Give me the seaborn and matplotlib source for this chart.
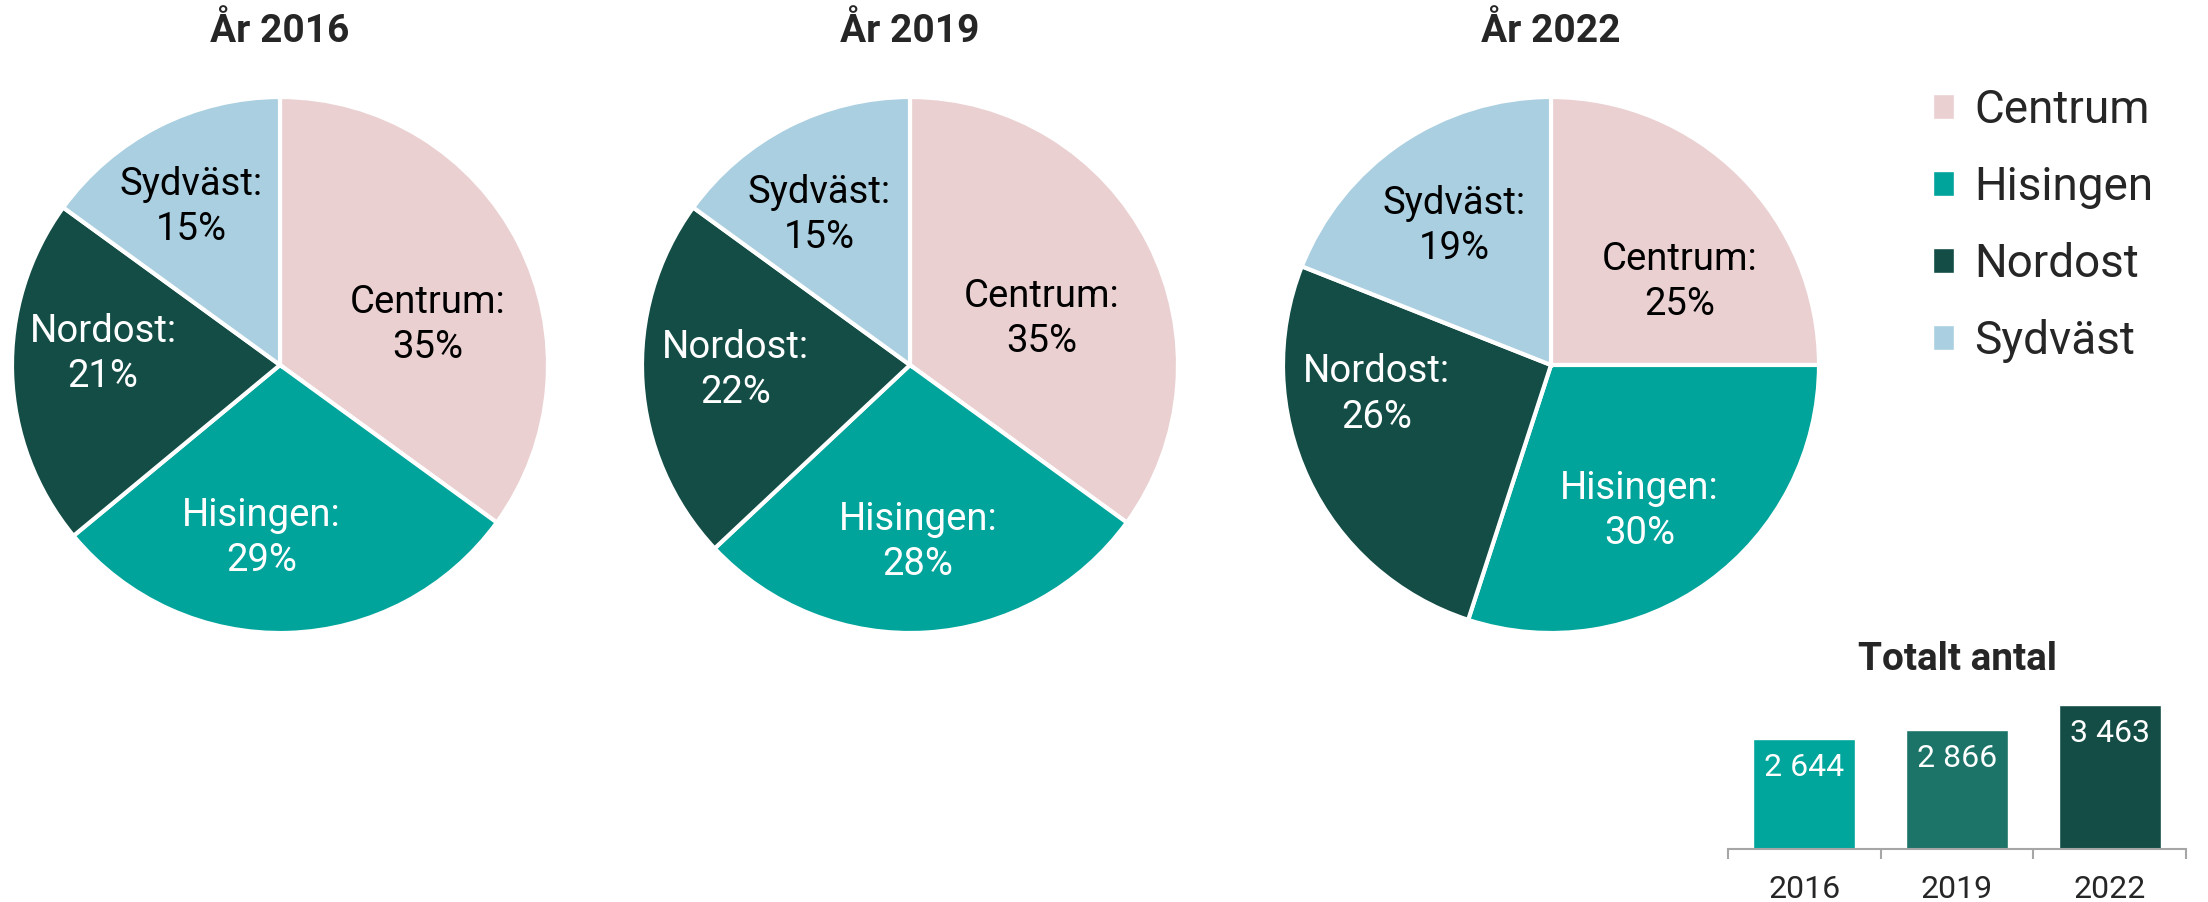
import matplotlib
matplotlib.use("Agg")
import matplotlib.pyplot as plt
import seaborn as sns
from matplotlib.patches import Patch

# Data
areas = ["Centrum", "Hisingen", "Nordost", "Sydväst"]
years = ["2016", "2019", "2022"]
share_2016 = [35, 29, 21, 15]
share_2019 = [35, 28, 22, 15]
share_2022 = [25, 30, 26, 19]
totals = [2644, 2866, 3463]
total_labels = ["2 644", "2 866", "3 463"]

# Styles
area_colors = ["#ebd0d1", "#00a49b", "#134d46", "#aacfe1"]
text_colors = ["black", "white", "white", "black"]
bar_colors = ["#00a59b", "#1c7368", "#134d45"]

# label placement inside each pie (in units of the radius)
label_pos = {
    "2016": [(0.55, 0.15), (-0.07, -0.645), (-0.66, 0.04), (-0.33, 0.59)],
    "2019": [(0.49, 0.17), (0.03, -0.66), (-0.65, -0.02), (-0.34, 0.56)],
    "2022": [(0.48, 0.31), (0.33, -0.545), (-0.65, -0.11), (-0.36, 0.52)],
}

W, H = 2208, 902
R = 268
pie_centers = [(280, 365), (910, 365), (1551, 365)]

sns.set_theme(style="white")
plt.rcParams['font.family'] = ['Roboto', 'DejaVu Sans']

fig = plt.figure(figsize=(W / 100, H / 100), dpi=100, facecolor="white")

for year, shares, (cx, cy) in zip(years, [share_2016, share_2019, share_2022], pie_centers):
    ax = fig.add_axes([(cx - R) / W, 1 - (cy + R) / H, 2 * R / W, 2 * R / H])
    ax.pie(shares, colors=area_colors, startangle=90, counterclock=False,
           wedgeprops={'edgecolor': 'white', 'linewidth': 3})
    ax.set_xlim(-1, 1)
    ax.set_ylim(-1, 1)
    ax.set_aspect('equal')
    for area, val, col, (x, y) in zip(areas, shares, text_colors, label_pos[year]):
        ax.text(x, y, f"{area}:\n{val}%", ha='center', va='center',
                fontsize=27.5, color=col, linespacing=1.28)
    fig.text(cx / W, 1 - 31 / H, f"År {year}", ha='center', va='center',
             fontsize=28, fontweight='bold')

# Legend
handles = [Patch(facecolor=c, label=a) for a, c in zip(areas, area_colors)]
fig.legend(handles=handles, loc='upper left', bbox_to_anchor=(1933 / W, 1 - 88 / H),
           frameon=False, fontsize=33, handlelength=0.45, handleheight=0.45,
           handletextpad=0.45, labelspacing=0.72, borderpad=0, borderaxespad=0)

# Totalt antal
bax = fig.add_axes([1728 / W, 1 - 849 / H, 458 / W, 144 / H])
sns.barplot(x=years, y=totals, hue=years, palette=bar_colors, legend=False,
            width=0.667, saturation=1, ax=bax)
bax.set_ylim(0, 3463)
bax.set_xlim(-0.5, 2.5)
for container, lab in zip(bax.containers, total_labels):
    bax.bar_label(container, labels=[lab], padding=-31, color='white', fontsize=23)
for s in ['top', 'right', 'left']:
    bax.spines[s].set_visible(False)
bax.spines['bottom'].set_color('#a6a6a6')
bax.spines['bottom'].set_linewidth(1.5)
bax.set_yticks([])
bax.set_ylabel("")
bax.set_xlabel("")
bax.set_xticks([-0.5, 0.5, 1.5, 2.5], minor=True)
bax.tick_params(axis='x', which='minor', length=7, width=1.5, color='#a6a6a6', direction='out', bottom=True)
bax.tick_params(axis='x', which='major', length=0, pad=19, labelsize=23)
fig.text(1957 / W, 1 - 659 / H, "Totalt antal", ha='center', va='center',
         fontsize=28, fontweight='bold')

fig.savefig("out.png", dpi=100)
plt.close(fig)
